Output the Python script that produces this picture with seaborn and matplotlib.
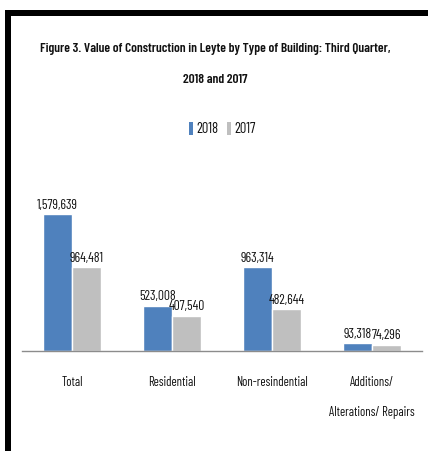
import matplotlib
matplotlib.use("Agg")
import matplotlib.pyplot as plt
from matplotlib.patches import Rectangle, Patch
import pandas as pd
import seaborn as sns

# Data
categories = ["Total", "Residential", "Non-resindential", "Additions/\nAlterations/ Repairs"]
years = ["2018", "2017"]
values_2018 = [1579639, 523008, 963314, 93318]
values_2017 = [964481, 407540, 482644, 74296]

colors = {"2018": "#4F81BD", "2017": "#BFBFBF"}
txt = "#111111"

df = pd.DataFrame({
    "type": categories * 2,
    "year": ["2018"] * 4 + ["2017"] * 4,
    "value": values_2018 + values_2017,
})

sns.set_style("white")
plt.rcParams["font.family"] = ["Barlow Condensed", "DejaVu Sans"]

W, H = 428, 451
fig = plt.figure(figsize=(W / 100, H / 100), dpi=100)
ax = fig.add_axes([22 / W, 100 / H, 400 / W, 200 / H])
renderer = fig.canvas.get_renderer()


def fit(t, target_px):
    # scale a text so its width on the canvas matches the reference
    w = t.get_window_extent(renderer).width
    t.set_fontsize(t.get_fontsize() * target_px / w)
    return t.get_fontsize()


sns.barplot(data=df, x="type", y="value", hue="year", hue_order=years,
            palette=colors, width=0.58, gap=0, saturation=1, ax=ax,
            legend=False)

ax.set_xlim(-0.5, 3.5)
ax.set_ylim(0, 2.3e6)
ax.set_xlabel("")
ax.set_ylabel("")
ax.set_yticks([])
for s in ["top", "right", "left"]:
    ax.spines[s].set_visible(False)
ax.spines["bottom"].set_color("#8C8C8C")
ax.spines["bottom"].set_linewidth(1.0)

labels = []
for cont in ax.containers:
    labels += ax.bar_label(cont, labels=[f"{v:,.0f}" for v in cont.datavalues],
                           padding=1.5, fontsize=10, color=txt)
vsize = fit(labels[0], 41)
for t in labels:
    t.set_fontsize(vsize)

ax.tick_params(axis="x", length=0, pad=18, labelsize=10, colors=txt)
ticks = ax.get_xticklabels()
tsize = fit(ticks[2], 72)
for t in ticks:
    t.set_fontsize(tsize)
    t.set_linespacing(2.7)
    t.set_verticalalignment("top")

t1 = fig.text(0.5 + 1 / W, 1 - 49 / H,
              "Figure 3. Value of Construction in Leyte by Type of Building: Third Quarter,",
              ha="center", va="center", fontsize=10, fontweight="semibold", color=txt)
hsize = fit(t1, 352)
fig.text(0.5 + 1 / W, 1 - 80 / H, "2018 and 2017",
         ha="center", va="center", fontsize=hsize, fontweight="semibold", color=txt)

handles = [Patch(facecolor=colors[y], edgecolor="none", label=y) for y in years]
fig.legend(handles=handles, loc="center", bbox_to_anchor=(222 / W, 1 - 129 / H),
           ncol=2, frameon=False, fontsize=tsize * 1.15, handlelength=0.3, handleheight=1.0,
           handletextpad=0.2, columnspacing=0.6, labelcolor=txt)

# black frame along the top and left edges
fig.add_artist(Rectangle((5 / W, 1 - 16 / H), 1 - 5 / W, 6 / H,
                         transform=fig.transFigure, color="black", lw=0))
fig.add_artist(Rectangle((5 / W, 0), 6 / W, 1 - 10 / H,
                         transform=fig.transFigure, color="black", lw=0))

fig.savefig("out.png", dpi=100, facecolor="white")
